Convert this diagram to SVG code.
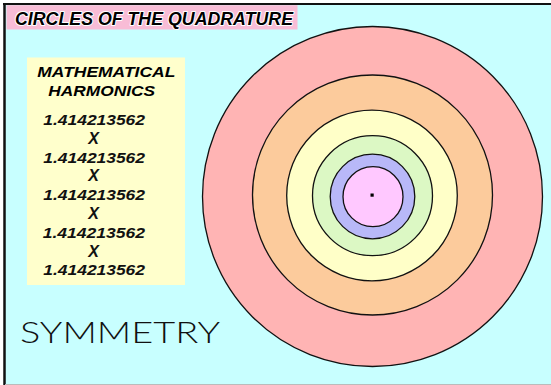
<svg xmlns="http://www.w3.org/2000/svg" width="551" height="385" viewBox="0 0 551 385">
<style>
.ring{stroke:#111;stroke-width:1.3}
.hd{font-family:"Liberation Sans",Arial,sans-serif;font-weight:bold;font-style:italic;fill:#000}
.num{font-family:"Liberation Sans",Arial,sans-serif;font-weight:bold;font-style:italic;font-size:14.5px;fill:#111}
.x{font-family:"Liberation Sans",Arial,sans-serif;font-weight:bold;font-style:italic;font-size:16px;fill:#111}
</style>
<rect x="0" y="0" width="551" height="385" fill="#fff"/>
<rect x="4" y="4" width="547" height="380" fill="#c8ffff"/>
<line x1="3" y1="4" x2="551" y2="4" stroke="#111" stroke-width="2.2"/>
<line x1="4.5" y1="3" x2="4.5" y2="385" stroke="#111" stroke-width="2.5"/>
<line x1="5" y1="384.5" x2="551" y2="384.5" stroke="#bbb" stroke-width="1"/>
<g id="title">
<rect x="6.5" y="5.2" width="291" height="24.3" fill="#f8bcd6"/>
<text class="hd" x="15" y="25" font-size="17.6" textLength="278" lengthAdjust="spacingAndGlyphs" stroke="#fff" stroke-width="2" paint-order="stroke" stroke-linejoin="round">CIRCLES OF THE QUADRATURE</text>
</g>
<g id="harmonics">
<rect x="27" y="57.5" width="158" height="227.5" fill="#ffffcc"/>
<text class="hd" x="37.3" y="77.3" font-size="15" textLength="138" lengthAdjust="spacingAndGlyphs">MATHEMATICAL</text>
<text class="hd" x="48.3" y="95.7" font-size="15" textLength="106.7" lengthAdjust="spacingAndGlyphs">HARMONICS</text>
<text class="num" x="43.3" y="125.3" textLength="101.7" lengthAdjust="spacingAndGlyphs">1.414213562</text>
<text class="x" x="88.3" y="143.7">X</text>
<text class="num" x="43.3" y="162.5" textLength="101.7" lengthAdjust="spacingAndGlyphs">1.414213562</text>
<text class="x" x="88.3" y="181.3">X</text>
<text class="num" x="43.3" y="200" textLength="101.7" lengthAdjust="spacingAndGlyphs">1.414213562</text>
<text class="x" x="88.3" y="218.7">X</text>
<text class="num" x="42.7" y="237.7" textLength="102.3" lengthAdjust="spacingAndGlyphs">1.414213562</text>
<text class="x" x="88.3" y="256.7">X</text>
<text class="num" x="43.3" y="275" textLength="101.7" lengthAdjust="spacingAndGlyphs">1.414213562</text>
</g>
<g id="symmetry">
<text x="20" y="342.7" font-family="Lato,'Open Sans',sans-serif" font-weight="300" font-size="29" fill="#111" textLength="200" lengthAdjust="spacingAndGlyphs">SYMMETRY</text>
</g>
<g id="circles">
<circle class="ring" cx="372.5" cy="196.5" r="170" fill="#ffb4b4"/>
<circle class="ring" cx="372.5" cy="195" r="120" fill="#fccb9c"/>
<circle class="ring" cx="372" cy="195.5" r="85.3" fill="#ffffc8"/>
<circle class="ring" cx="372.5" cy="195.7" r="60" fill="#dcf8c4"/>
<circle class="ring" cx="372.5" cy="196.5" r="42.3" fill="#b8b8f8"/>
<circle class="ring" cx="373" cy="196.7" r="30" fill="#ffc8ff"/>
<rect x="370.5" y="193.5" width="3.2" height="3.2" fill="#000"/>
</g>
</svg>
